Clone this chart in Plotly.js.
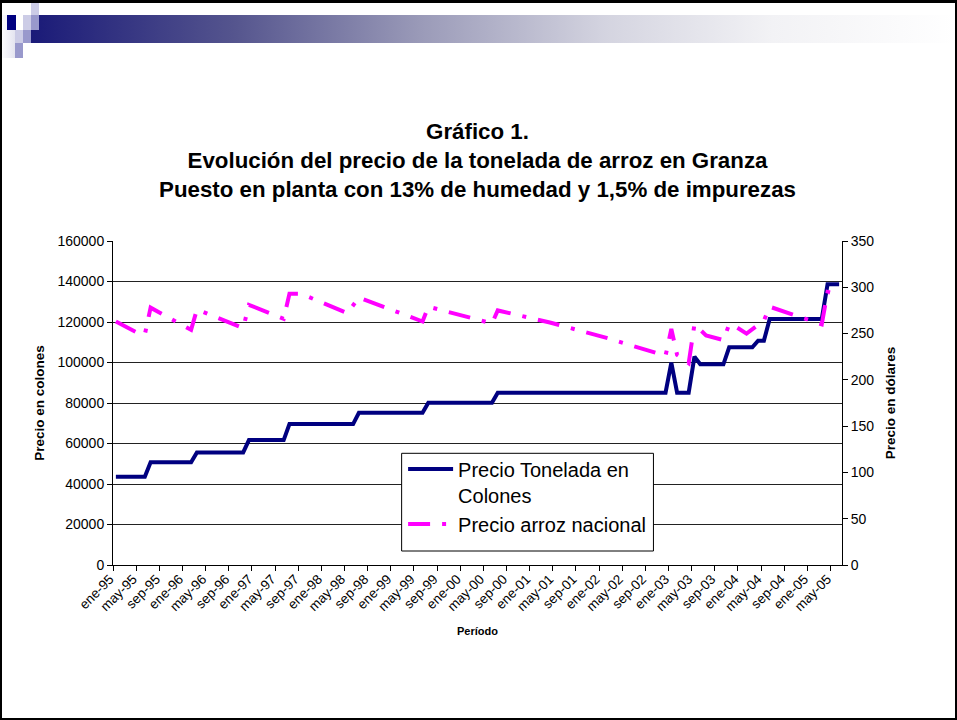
<!DOCTYPE html>
<html>
<head>
<meta charset="utf-8">
<script src="https://cdn.plot.ly/plotly-3.0.1.min.js"></script>
<style>
  html, body { margin: 0; padding: 0; background: #ffffff; }
  #wrap { position: relative; width: 957px; height: 720px; overflow: hidden; }
  #chart { position: absolute; left: 0; top: 0; width: 957px; height: 720px; }
  .deco { position: absolute; pointer-events: none; }
</style>
</head>
<body>
<div id="wrap">
  <div id="chart"></div>
  <!-- header decoration -->
  <div class="deco" style="left:31px;top:15px;width:926px;height:28px;background:linear-gradient(to right,#1a1a78 0%,#55558e 22%,#9a9ab8 42%,#d4d4e0 62%,#f2f2f5 80%,#ffffff 100%);"></div>
  <div class="deco" style="left:0px;top:15px;width:15px;height:43px;background:linear-gradient(to right,#ffffff 0%,#e4e4f0 100%);"></div>
  <div class="deco" style="left:7px;top:15px;width:9px;height:15px;background:#000080;"></div>
  <div class="deco" style="left:23px;top:15px;width:8px;height:15px;background:#ccccE6;"></div>
  <div class="deco" style="left:31px;top:3px;width:8px;height:12px;background:#ccccE6;"></div>
  <div class="deco" style="left:31px;top:15px;width:8px;height:15px;background:#9999cc;"></div>
  <div class="deco" style="left:15px;top:30px;width:8px;height:13px;background:#ccccE6;"></div>
  <div class="deco" style="left:23px;top:30px;width:8px;height:13px;background:#9999cc;"></div>
  <div class="deco" style="left:15px;top:43px;width:8px;height:15px;background:#9999cc;"></div>
  <!-- page frame -->
  <div class="deco" style="left:0;top:0;width:957px;height:720px;box-sizing:border-box;border:2px solid #000;border-top-width:3px;"></div>
</div>
<script>
// ---- Data ----
const mesesAbrev = ['ene','feb','mar','abr','may','jun','jul','ago','sep','oct','nov','dic'];
const anios = ['95','96','97','98','99','00','01','02','03','04','05'];
const ultimoPeriodo = 'jun-05';

// Precio Tonelada en Colones (monthly, ene-95 .. jun-05)
const precioColones = [
  43600, 43600, 43600, 43600, 43600, 43600,                       // ene-95..jun-95
  50700, 50700, 50700, 50700, 50700, 50700, 50700, 50700,         // jul-95..feb-96
  55600, 55600, 55600, 55600, 55600, 55600, 55600, 55600, 55600,  // mar-96..nov-96
  61700, 61700, 61700, 61700, 61700, 61700, 61700,               // dic-96..jun-97
  69600, 69600, 69600, 69600, 69600, 69600, 69600, 69600, 69600, 69600, 69600, 69600, // jul-97..jun-98
  75200, 75200, 75200, 75200, 75200, 75200, 75200, 75200, 75200, 75200, 75200, 75200, // jul-98..jun-99
  80100, 80100, 80100, 80100, 80100, 80100, 80100, 80100, 80100, 80100, 80100, 80100, // jul-99..jun-00
  85100, 85100, 85100, 85100, 85100, 85100, 85100, 85100, 85100, 85100,
  85100, 85100, 85100, 85100, 85100, 85100, 85100, 85100, 85100, 85100,
  85100, 85100, 85100, 85100, 85100, 85100, 85100, 85100, 85100, 85100, // jul-00..dic-02
  99900,                                                          // ene-03
  85100, 85100, 85100,                                            // feb-03..abr-03
  102900,                                                         // may-03
  99100, 99100, 99100, 99100, 99100,                              // jun-03..oct-03
  107500, 107500, 107500, 107500, 107500,                         // nov-03..mar-04
  110800, 110800,                                                 // abr-04..may-04
  121500, 121500, 121500, 121500, 121500, 121500, 121500, 121500, 121500, 121500, // jun-04..mar-05
  138600, 138600, 138600                                          // abr-05..jun-05
];

// Precio arroz nacional (US$), vertices of the drawn line
const periodosDolares = ['ene-95','may-95','jun-95','jul-95','feb-96','mar-96','nov-96','dic-96',
  'jun-97','jul-97','sep-97','may-98','jul-98','jun-99','jul-99','jun-00','jul-00','abr-01',
  'feb-02','dic-02','ene-03','feb-03','abr-03','may-03','jul-03','oct-03','nov-03','dic-03',
  'feb-04','may-04','jun-04','mar-05','abr-05','jun-05'];
const precioDolares = [263, 250, 249, 278, 254, 276, 256, 281,
  266, 293, 293, 272, 289, 263, 279, 261, 275, 262,
  245, 226, 255, 227, 218, 260, 248, 243, 260, 258,
  250, 264, 279, 260, 295, 292];

// ---- Build categories ----
const periodos = [];
outer:
for (const a of anios) {
  for (const m of mesesAbrev) {
    const p = m + '-' + a;
    periodos.push(p);
    if (p === ultimoPeriodo) break outer;
  }
}

const FONT = 'Arial, "Liberation Sans", sans-serif';

const traces = [
  {
    x: periodos, y: precioColones,
    name: 'Precio Tonelada en<br>Colones',
    type: 'scatter', mode: 'lines',
    line: { color: '#000080', width: 4 },
    xaxis: 'x', yaxis: 'y'
  },
  {
    x: periodosDolares, y: precioDolares,
    name: 'Precio arroz nacional',
    type: 'scatter', mode: 'lines',
    line: { color: '#ff00ff', width: 4, dash: '22px,12px,4px,12px' },
    xaxis: 'x', yaxis: 'y2'
  }
];

const lx0 = (401.7 - 113.3) / 728.4, lx1 = (653.3 - 113.3) / 728.4;
const ly1 = (565 - 453.3) / 324, ly0 = (565 - 551) / 324;

const layout = {
  width: 957, height: 720,
  paper_bgcolor: '#ffffff', plot_bgcolor: '#ffffff',
  margin: { l: 113, r: 115, t: 241, b: 155 },
  font: { family: FONT, color: '#000000' },
  title: {
    text: 'Gráfico 1.<br>Evolución del precio de la tonelada de arroz en Granza<br>Puesto en planta con 13% de humedad y 1,5% de impurezas',
    font: { family: FONT, size: 22.3, weight: 'bold', color: '#000' },
    x: 0.5, xref: 'paper', xanchor: 'center',
    y: 1 - 139 / 720, yref: 'container', yanchor: 'top'
  },
  showlegend: true,
  legend: {
    x: lx0 + 0.002, y: ly1 + 0.012, xanchor: 'left', yanchor: 'top',
    bgcolor: 'rgba(0,0,0,0)', borderwidth: 0,
    font: { family: FONT, size: 20, color: '#000' },
    valign: 'top', itemwidth: 45, tracegroupgap: 0
  },
  xaxis: {
    type: 'category',
    range: [-0.5, periodos.length - 0.5],
    tickmode: 'linear', tick0: 0, dtick: 4,
    tickson: 'boundaries',
    ticks: 'outside', ticklen: 5, tickcolor: '#000',
    tickangle: -45,
    ticklabelshift: -6,
    tickfont: { family: FONT, size: 13.5, color: '#000' },
    showgrid: false, zeroline: false,
    showline: true, linecolor: '#000', linewidth: 1,
    title: { text: 'Período', font: { family: FONT, size: 11, weight: 'bold' }, standoff: 14 }
  },
  yaxis: {
    range: [0, 160000], tickmode: 'linear', tick0: 0, dtick: 20000,
    tickformat: 'd',
    ticks: 'outside', ticklen: 5, tickcolor: '#000',
    tickfont: { family: FONT, size: 14, color: '#000' },
    showgrid: true, gridcolor: '#222', gridwidth: 1,
    zeroline: false, showline: true, linecolor: '#000', linewidth: 1,
    title: { text: 'Precio en colones', font: { family: FONT, size: 13.5, weight: 'bold' }, standoff: 9 }
  },
  yaxis2: {
    overlaying: 'y', side: 'right',
    range: [0, 350], tickmode: 'linear', tick0: 0, dtick: 50,
    tickformat: 'd',
    ticks: 'outside', ticklen: 5, tickcolor: '#000',
    tickfont: { family: FONT, size: 14, color: '#000' },
    showgrid: false, zeroline: false,
    showline: true, linecolor: '#000', linewidth: 1,
    title: { text: 'Precio en dólares', font: { family: FONT, size: 13.5, weight: 'bold' }, standoff: 12 }
  },
  shapes: [
    { type: 'rect', xref: 'paper', yref: 'paper', x0: lx0, x1: lx1, y0: ly0, y1: ly1,
      fillcolor: '#ffffff', line: { color: '#000', width: 1 }, layer: 'above' }
  ]
};

Plotly.newPlot('chart', traces, layout, { displayModeBar: false, staticPlot: true });
</script>
</body>
</html>
